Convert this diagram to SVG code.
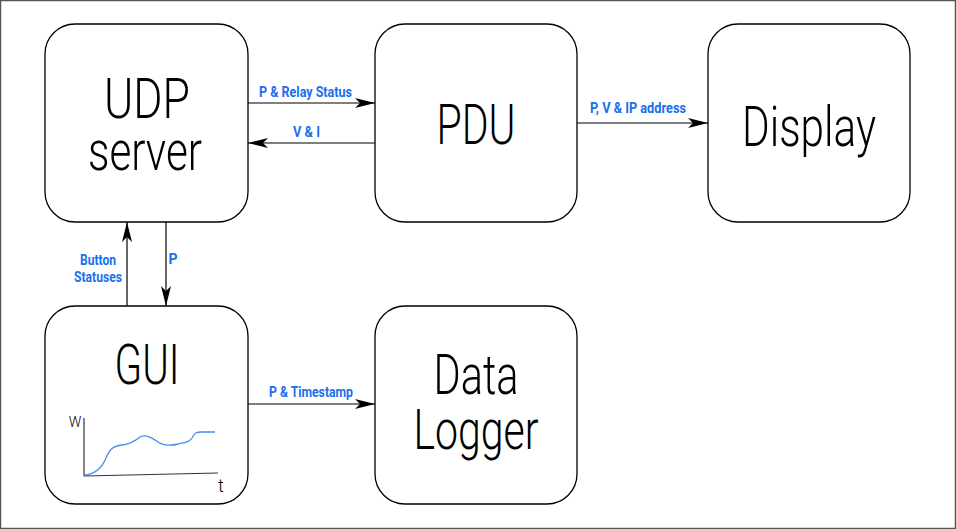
<svg xmlns="http://www.w3.org/2000/svg" width="956" height="529" viewBox="0 0 956 529">
<defs>
<marker id="ah" viewBox="0 0 20 10" refX="20" refY="5" markerWidth="20" markerHeight="10" markerUnits="userSpaceOnUse" orient="auto">
<path d="M0,0 L20,5 L0,10 L5,5 Z" fill="#000"/>
</marker>
</defs>
<style>
.box{fill:#fff;stroke:#000;stroke-width:1.3}
.big{font-family:Roboto,"Liberation Sans",sans-serif;font-weight:300;font-size:56px;fill:#000;text-anchor:middle}
.lbl{font-family:Roboto,"Liberation Sans",sans-serif;font-weight:700;font-size:14px;fill:#1a6ef0;text-anchor:middle}
.con{stroke:#000;stroke-width:1.2;fill:none;marker-end:url(#ah)}
</style>
<rect x="0.5" y="0.5" width="955" height="528" fill="#fff" stroke="#555" stroke-width="1.5"/>
<g id="udp">
<rect class="box" x="45" y="24" width="203" height="198" rx="30"/>
<text class="big" x="147" y="118" textLength="86" lengthAdjust="spacingAndGlyphs">UDP</text>
<text class="big" x="145" y="170" textLength="114" lengthAdjust="spacingAndGlyphs">server</text>
</g>
<g id="pdu">
<rect class="box" x="375" y="24" width="202" height="198" rx="30"/>
<text class="big" x="476" y="144" textLength="79" lengthAdjust="spacingAndGlyphs">PDU</text>
</g>
<g id="display">
<rect class="box" x="708" y="24" width="202" height="198" rx="30"/>
<text class="big" x="809" y="146" textLength="134" lengthAdjust="spacingAndGlyphs">Display</text>
</g>
<g id="gui">
<rect class="box" x="45" y="306" width="203" height="198" rx="30"/>
<text class="big" x="147" y="384" textLength="65" lengthAdjust="spacingAndGlyphs">GUI</text>
<line x1="84" y1="418" x2="84" y2="476" stroke="#333" stroke-width="1.2"/>
<line x1="84" y1="476" x2="218" y2="473" stroke="#333" stroke-width="1.2"/>
<text x="75" y="427" font-family="Roboto,'Liberation Sans',sans-serif" font-weight="300" font-size="14" text-anchor="middle">W</text>
<text x="221" y="492" font-family="Roboto,'Liberation Sans',sans-serif" font-weight="300" font-size="18" text-anchor="middle">t</text>
<path d="M85,475 C95,474 102,468 106,458 C110,448 114,446 122,445 C130,444 134,442 140,437 C146,434 152,438 158,442 C164,446 170,446 178,444 C185,442 189,443 192,438 C195,432 197,432 202,432 L215,432" fill="none" stroke="#4a8df0" stroke-width="1.3"/>
</g>
<g id="logger">
<rect class="box" x="375" y="306" width="202" height="198" rx="30"/>
<text class="big" x="476" y="394" textLength="85" lengthAdjust="spacingAndGlyphs">Data</text>
<text class="big" x="476" y="449" textLength="125" lengthAdjust="spacingAndGlyphs">Logger</text>
</g>
<g id="connectors">
<line class="con" x1="248" y1="103" x2="375" y2="103"/>
<line class="con" x1="375" y1="143" x2="248" y2="143"/>
<line class="con" x1="577" y1="123" x2="708" y2="123"/>
<line class="con" x1="127" y1="306" x2="127" y2="222"/>
<line class="con" x1="166" y1="222" x2="166" y2="306"/>
<line class="con" x1="248" y1="404" x2="375" y2="404"/>
<text class="lbl" x="305.5" y="97" textLength="93" lengthAdjust="spacingAndGlyphs">P &amp; Relay Status</text>
<text class="lbl" x="306.5" y="137" textLength="27" lengthAdjust="spacingAndGlyphs">V &amp; I</text>
<text class="lbl" x="638" y="113" textLength="96" lengthAdjust="spacingAndGlyphs">P, V &amp; IP address</text>
<text class="lbl" x="98" y="265" textLength="36" lengthAdjust="spacingAndGlyphs">Button</text>
<text class="lbl" x="98" y="282" textLength="48" lengthAdjust="spacingAndGlyphs">Statuses</text>
<text class="lbl" x="173" y="264">P</text>
<text class="lbl" x="311" y="397" textLength="84" lengthAdjust="spacingAndGlyphs">P &amp; Timestamp</text>
</g>
</svg>
